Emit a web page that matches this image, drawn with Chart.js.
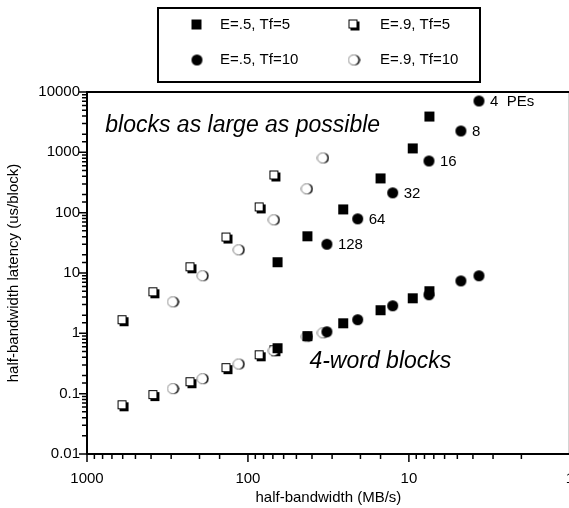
<!DOCTYPE html>
<html>
<head>
<meta charset="utf-8">
<script src="https://cdn.jsdelivr.net/npm/chart.js@4.4.0/dist/chart.umd.min.js"></script>
<style>
  html, body { margin: 0; padding: 0; background: #fff; overflow: hidden; }
  #wrap { width: 590px; height: 508px; }
</style>
</head>
<body>
<div id="wrap"><canvas id="chart" width="590" height="508"></canvas></div>
<script>
// PE counts, labelled next to the E=.5, Tf=10 points
const peCounts = [4, 8, 16, 32, 64, 128];

// E=.5, Tf=5 (filled squares)
const bwE5Tf5 = [7.4, 9.4, 14.9, 25.4, 42.4, 65];
const largeE5Tf5 = [3850, 1140, 363, 111, 39.8, 14.8];
const smallE5Tf5 = [4.89, 3.74, 2.37, 1.44, 0.88, 0.556];

// E=.9, Tf=5 (open squares)
const bwE9Tf5 = [68, 84, 135, 226, 384, 597];
const largeE9Tf5 = [406, 120, 38, 12.2, 4.7, 1.62];
const smallE9Tf5 = [0.515, 0.425, 0.26, 0.152, 0.093, 0.063];

// E=.5, Tf=10 (filled circles)
const bwE5Tf10 = [3.67, 4.75, 7.5, 12.6, 20.8, 32.3];
const largeE5Tf10 = [7100, 2260, 720, 213, 79, 30];
const smallE5Tf10 = [9.0, 7.4, 4.35, 2.86, 1.68, 1.06];

// E=.9, Tf=10 (open circles)
const bwE9Tf10 = [34.2, 43, 69, 114, 191, 292];
const largeE9Tf10 = [807, 248, 76, 24.2, 9.0, 3.33];
const smallE9Tf10 = [1.02, 0.88, 0.515, 0.31, 0.177, 0.121];

const xTickLabels = [1000, 100, 10, 1];
const yTickLabels = [10000, 1000, 100, 10, 1, 0.1, 0.01];

const FONT = '"Liberation Sans", Arial, sans-serif';

function points(bw, large, small) {
  const pts = [];
  for (let i = 0; i < bw.length; i++) pts.push({ x: bw[i], y: large[i] });
  for (let i = 0; i < bw.length; i++) pts.push({ x: bw[i], y: small[i] });
  return pts;
}

function makeMarker(kind) {
  const c = document.createElement('canvas');
  c.width = 13;
  c.height = 13;
  const g = c.getContext('2d');
  g.fillStyle = '#000';
  if (kind == 'filledSquare') {
    g.fillRect(1, 1, 10, 10);
  }
  if (kind == 'openSquare') {
    g.fillRect(3, 3, 9, 9);
    g.fillStyle = '#fff';
    g.fillRect(1, 1, 9, 9);
    g.strokeStyle = '#000';
    g.lineWidth = 1;
    g.strokeRect(1.5, 1.5, 8, 8);
  }
  if (kind == 'filledCircle') {
    g.beginPath();
    g.arc(6.5, 6.5, 5.5, 0, Math.PI * 2);
    g.fill();
  }
  if (kind == 'openCircle') {
    // thin outline on the left, heavy crescent on the right
    g.beginPath();
    g.arc(7.2, 6.5, 5.3, 0, Math.PI * 2);
    g.fill();
    g.fillStyle = '#fff';
    g.beginPath();
    g.arc(5.9, 6.5, 5, 0, Math.PI * 2);
    g.fill();
    g.strokeStyle = '#555';
    g.lineWidth = 0.7;
    g.beginPath();
    g.arc(5.9, 6.5, 5, Math.PI * 0.5, Math.PI * 1.5);
    g.stroke();
  }
  return c;
}

const markers = {
  filledSquare: makeMarker('filledSquare'),
  openSquare: makeMarker('openSquare'),
  filledCircle: makeMarker('filledCircle'),
  openCircle: makeMarker('openCircle'),
};

function isDecade(v) {
  const l = Math.log10(v);
  return Math.abs(l - Math.round(l)) < 1e-6;
}

const decorations = {
  id: 'decorations',
  afterDraw(chart) {
    const ctx = chart.ctx;
    const area = chart.chartArea;
    const xs = chart.scales.x;
    const ys = chart.scales.y;
    ctx.save();

    // frame
    ctx.strokeStyle = '#000';
    ctx.lineWidth = 2;
    ctx.strokeRect(area.left, area.top, area.right - area.left, area.bottom - area.top);

    // tick marks, long at decades, short in between
    ctx.lineWidth = 1.5;
    ctx.beginPath();
    xs.ticks.forEach(t => {
      const px = xs.getPixelForValue(t.value);
      const len = isDecade(t.value) ? 8 : 5;
      ctx.moveTo(px, area.bottom);
      ctx.lineTo(px, area.bottom + len);
    });
    ys.ticks.forEach(t => {
      const py = ys.getPixelForValue(t.value);
      const len = isDecade(t.value) ? 8 : 5;
      ctx.moveTo(area.left - len, py);
      ctx.lineTo(area.left, py);
    });
    ctx.stroke();

    // PE count labels next to the large-block E=.5, Tf=10 points
    const meta = chart.getDatasetMeta(2);
    ctx.fillStyle = '#000';
    ctx.font = '15px ' + FONT;
    ctx.textAlign = 'left';
    ctx.textBaseline = 'middle';
    peCounts.forEach((pe, i) => {
      const el = meta.data[i];
      const txt = i == 0 ? pe + '  PEs' : String(pe);
      ctx.fillText(txt, el.x + 11, el.y + 1);
    });

    // annotations
    ctx.font = 'italic 23px ' + FONT;
    ctx.textBaseline = 'alphabetic';
    ctx.fillText('blocks as large as possible', xs.getPixelForValue(770), ys.getPixelForValue(2150));
    ctx.fillText('4-word blocks', xs.getPixelForValue(41.5), ys.getPixelForValue(0.27));

    // legend box
    ctx.lineWidth = 2;
    ctx.strokeRect(158, 8, 322, 74);
    ctx.font = '15px ' + FONT;
    ctx.textBaseline = 'middle';
    const cols = [197, 354];
    const rows = [25, 60];
    chart.data.datasets.forEach((ds, i) => {
      const col = cols[ds.legendCol];
      const row = rows[ds.legendRow];
      ctx.drawImage(ds.pointStyle, col - 6.5, row - 6.5);
      ctx.fillText(ds.label, col + (ds.legendCol == 0 ? 23 : 26), row);
    });

    ctx.restore();
  }
};

const ctx = document.getElementById('chart').getContext('2d');
const chart = new Chart(ctx, {
  type: 'scatter',
  data: {
    datasets: [
      {
        label: 'E=.5, Tf=5',
        data: points(bwE5Tf5, largeE5Tf5, smallE5Tf5),
        pointStyle: markers.filledSquare,
        legendCol: 0, legendRow: 0,
        order: 1,
      },
      {
        label: 'E=.9, Tf=5',
        data: points(bwE9Tf5, largeE9Tf5, smallE9Tf5),
        pointStyle: markers.openSquare,
        legendCol: 1, legendRow: 0,
        order: 3,
      },
      {
        label: 'E=.5, Tf=10',
        data: points(bwE5Tf10, largeE5Tf10, smallE5Tf10),
        pointStyle: markers.filledCircle,
        legendCol: 0, legendRow: 1,
        order: 0,
      },
      {
        label: 'E=.9, Tf=10',
        data: points(bwE9Tf10, largeE9Tf10, smallE9Tf10),
        pointStyle: markers.openCircle,
        legendCol: 1, legendRow: 1,
        order: 2,
      },
    ],
  },
  options: {
    responsive: false,
    animation: false,
    layout: { padding: { top: 92, right: 15, left: 0, bottom: 0 } },
    plugins: {
      legend: { display: false },
      tooltip: { enabled: false },
    },
    scales: {
      x: {
        type: 'logarithmic',
        position: 'bottom',
        reverse: true,
        min: 1,
        max: 1000,
        grid: { display: false, drawTicks: false },
        border: { display: false },
        afterFit: function (scale) { scale.height = 54; },
        ticks: {
          autoSkip: false,
          maxRotation: 0,
          padding: 16,
          color: '#000',
          font: { size: 15, family: FONT },
          callback: function (value) {
            return xTickLabels.includes(value) ? String(value) : '';
          },
        },
        title: {
          display: true,
          text: 'half-bandwidth (MB/s)',
          color: '#000',
          font: { size: 15, family: FONT },
          padding: { top: 0, bottom: 1 },
        },
      },
      y: {
        type: 'logarithmic',
        min: 0.01,
        max: 10000,
        grid: { display: false, drawTicks: false },
        border: { display: false },
        afterFit: function (scale) { scale.width = 87; },
        ticks: {
          autoSkip: false,
          padding: 7,
          color: '#000',
          font: { size: 15, family: FONT },
          callback: function (value) {
            return yTickLabels.includes(value) ? String(value) : '';
          },
        },
        title: {
          display: true,
          text: 'half-bandwidth latency (us/block)',
          color: '#000',
          font: { size: 15, family: FONT },
          padding: { top: 5, bottom: 0 },
        },
      },
    },
  },
  plugins: [decorations],
});
</script>
</body>
</html>
